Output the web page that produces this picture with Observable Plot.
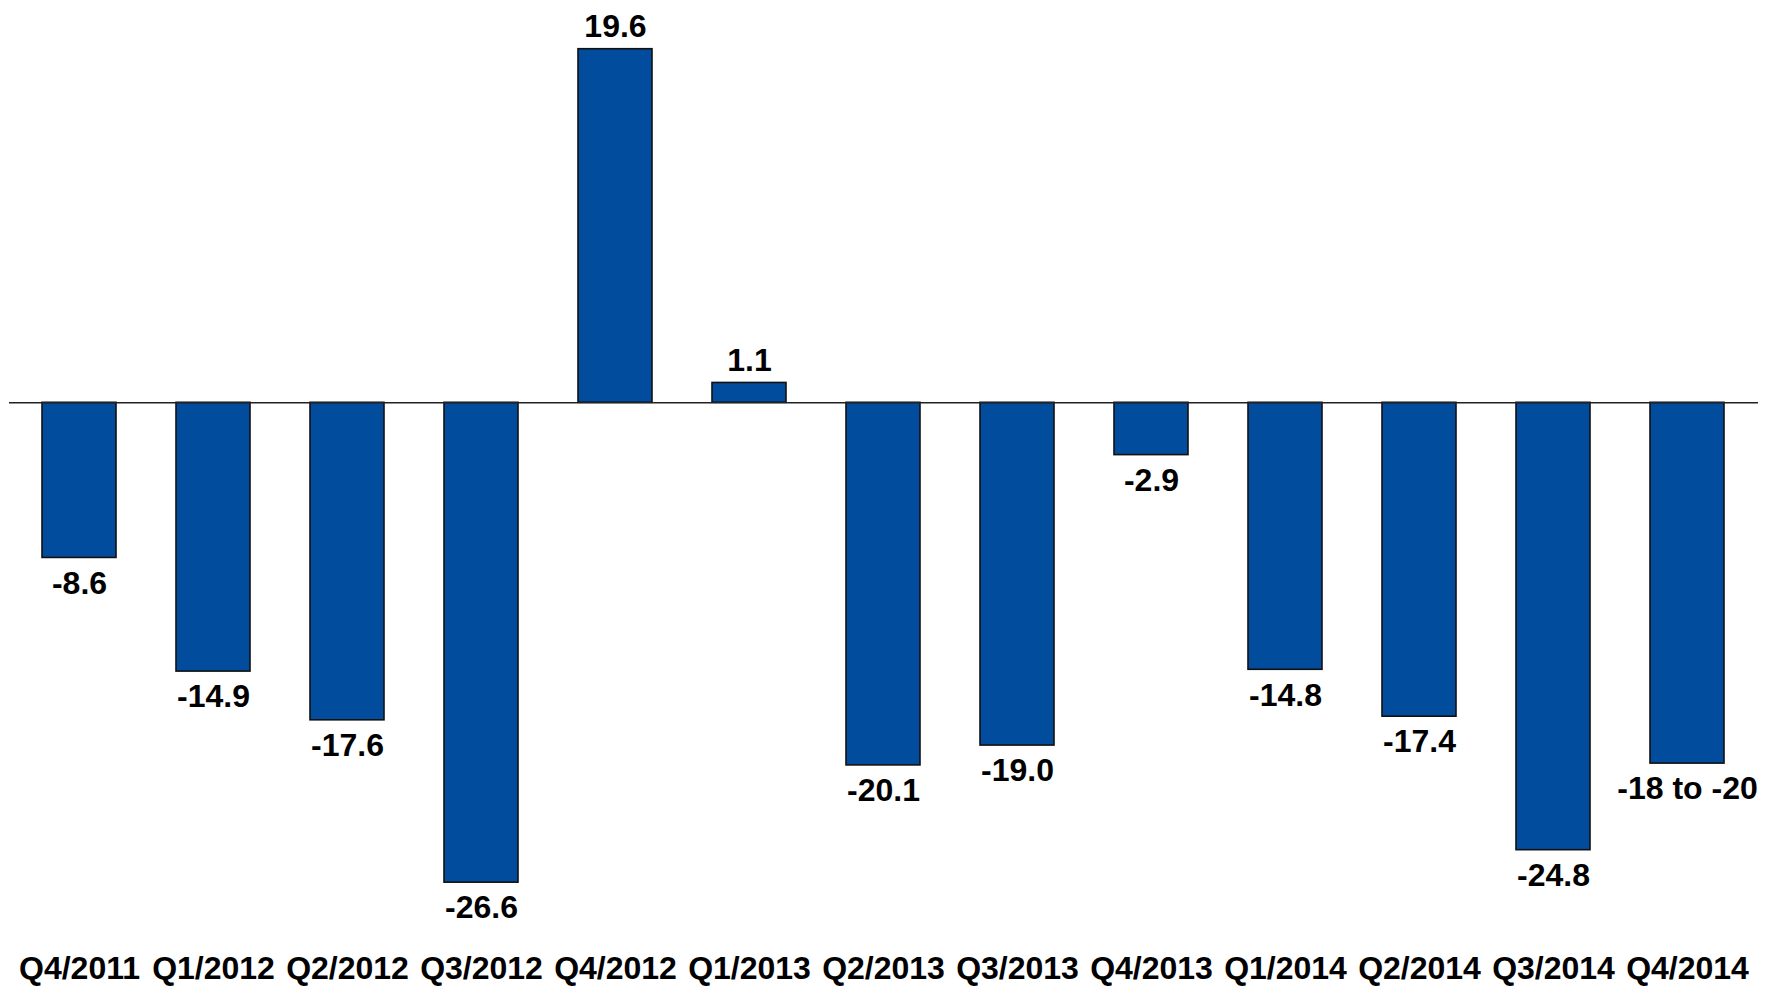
<!DOCTYPE html>
<html>
<head>
<meta charset="utf-8">
<script src="https://cdn.jsdelivr.net/npm/d3@7"></script>
<script src="https://cdn.jsdelivr.net/npm/@observablehq/plot@0.6"></script>
<style>
  html, body { margin: 0; padding: 0; background: #fff; }
  #chart svg { display: block; }
</style>
</head>
<body>
<div id="chart"></div>
<script>
// Quarterly values
const quarters = ["Q4/2011", "Q1/2012", "Q2/2012", "Q3/2012", "Q4/2012", "Q1/2013", "Q2/2013",
                  "Q3/2013", "Q4/2013", "Q1/2014", "Q2/2014", "Q3/2014", "Q4/2014"];
const values = [-8.6, -14.9, -17.6, -26.6, 19.6, 1.1, -20.1, -19.0, -2.9, -14.8, -17.4, -24.8, -20];
const labels = ["-8.6", "-14.9", "-17.6", "-26.6", "19.6", "1.1", "-20.1", "-19.0", "-2.9",
                "-14.8", "-17.4", "-24.8", "-18 to -20"];

const data = quarters.map((q, i) => ({quarter: q, value: values[i], label: labels[i]}));
const pos = data.filter(d => d.value >= 0);
const neg = data.filter(d => d.value < 0);

const font = "'Liberation Sans', Arial, Helvetica, sans-serif";

const chart = Plot.plot({
  width: 1765,
  height: 988,
  marginLeft: 9,
  marginRight: 7,
  marginTop: 0,
  marginBottom: 44.5,
  style: {fontFamily: font, background: "#fff", color: "#000"},
  x: {domain: quarters, paddingInner: 0.446, paddingOuter: 0.23, label: null},
  y: {domain: [-30, 22.3], axis: null},
  marks: [
    Plot.barY(data, {x: "quarter", y: "value", fill: "#024C9E", stroke: "#111", strokeWidth: 1.6}),
    Plot.ruleY([0], {stroke: "#222", strokeWidth: 1.5}),
    Plot.text(pos, {x: "quarter", y: "value", text: "label", lineAnchor: "bottom", dy: -12,
                    fontSize: 32, fontWeight: "bold", fill: "#000"}),
    Plot.text(neg, {x: "quarter", y: "value", text: "label", lineAnchor: "top", dy: 13,
                    fontSize: 32, fontWeight: "bold", fill: "#000"}),
    Plot.axisX({tickSize: 0, tickPadding: 12, fontSize: 32, fontWeight: "bold", label: null, fill: "#000"})
  ]
});

document.getElementById("chart").appendChild(chart);
</script>
</body>
</html>
